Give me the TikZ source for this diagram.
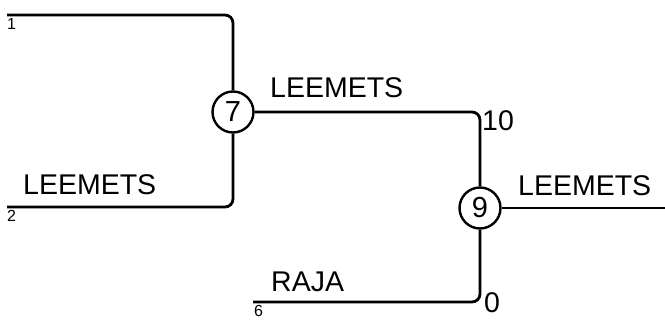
\documentclass[tikz,border=0pt]{standalone}
\usepackage{fontspec}
\setmainfont{Liberation Sans}
\begin{document}
\begin{tikzpicture}[x=1pt,y=-1pt,
		wire/.style={line width=2.8pt, rounded corners=8pt},
		junc/.style={circle, draw, line width=2.4pt, minimum size=41pt, inner sep=0pt, font=\fontsize{29}{32}\selectfont},
		big/.style={inner sep=0pt, anchor=base west, font=\fontsize{28.5}{32}\selectfont},
		small/.style={inner sep=0pt, anchor=north west, font=\fontsize{16}{18}\selectfont}]
		\useasboundingbox (0,0) rectangle (665,320);
		
		% 两个汇合点
		\node[junc] (n7) at (233,112) {7};
		\node[junc] (n9) at (480,208) {9};
		
		% 线的自由端
		\coordinate (s1) at (7,15);
		\coordinate (s2) at (7,207);
		\coordinate (s6) at (253,302);
		\coordinate (e9) at (665,208);
		
		% 带圆角的连线
		\draw[wire] (s1) -| (n7.north);
		\draw[wire] (s2) -| (n7.south);
		\draw[wire] (n7.east) -| (n9.north);
		\draw[wire] (s6) -| (n9.south);
		\draw[wire] (n9.east) -- (e9);
		
		% 标签
		\node[small] (l1) at (7,18) {1};
		\node[small] (l2) at (7,210) {2};
		\node[small] (l6) at (254,305) {6};
		\node[big] (t2) at (23,195) {LEEMETS};
		\node[big] (t7) at (270,98) {LEEMETS};
		\node[big] (t9) at (518,196) {LEEMETS};
		\node[big] (t6) at (271,292) {RAJA};
		\node[big] (c10) at (482,131) {10};
		\node[big] (c0) at (484,313) {0};
	\end{tikzpicture}
\end{document}
